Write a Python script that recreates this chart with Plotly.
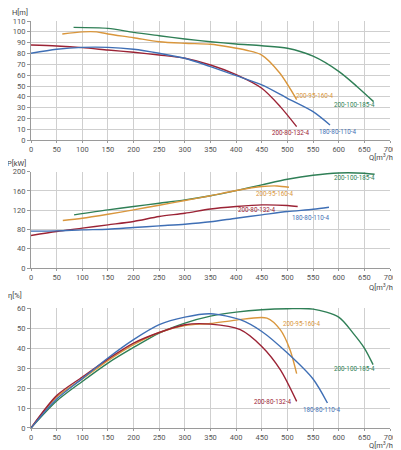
import plotly.graph_objects as go

# pump curves: flow Q [m3/h] vs head, power, efficiency
names = ['200-100-185-4', '200-95-160-4', '200-80-132-4', '180-80-110-4']
colors = ['#2f7f56', '#d9963c', '#9b2335', '#3f6fb5']

# H [m]
h_q_green = [83, 150, 200, 250, 300, 350, 400, 450, 500, 550, 600, 636, 668]
h_green = [104.1, 103.2, 99.5, 96.4, 93.4, 90.9, 88.8, 87.1, 84.8, 77.5, 63.5, 49.4, 35.6]
h_q_orange = [61, 100, 128, 150, 200, 250, 300, 350, 387, 420, 450, 485, 518]
h_orange = [98, 100, 100, 98, 94.6, 90.9, 89.4, 88.5, 86, 83, 78.6, 62, 37.5]
h_q_red = [0, 50, 100, 150, 200, 250, 300, 350, 400, 450, 486, 518]
h_red = [87.8, 86.9, 85.4, 83.2, 81.1, 78.6, 75.6, 69.4, 60.5, 47.9, 31, 12.5]
h_q_blue = [0, 50, 100, 150, 200, 250, 300, 350, 400, 450, 500, 550, 583]
h_blue = [80.2, 83.9, 85.7, 85.7, 83.9, 80.2, 75.6, 67.9, 59.6, 51, 38.7, 26.4, 14.1]

# P [kW]
p_q_green = [84, 150, 200, 250, 300, 350, 400, 450, 500, 550, 600, 650, 670]
p_green = [110.3, 120.7, 127.6, 134.5, 141.4, 150, 160.7, 172.4, 184, 192.4, 197.2, 196.6, 194.5]
p_q_orange = [62, 100, 150, 200, 250, 300, 350, 400, 450, 480, 503]
p_orange = [98.6, 103.4, 111.7, 120.7, 130.3, 140, 150, 160.7, 169, 170.3, 167.6]
p_q_red = [0, 50, 100, 150, 200, 250, 300, 350, 400, 450, 500, 520]
p_red = [67.6, 75.9, 82.8, 89.7, 96.6, 106.9, 113.8, 122.5, 127.6, 131, 129.7, 127.6]
p_q_blue = [0, 50, 100, 150, 200, 250, 300, 350, 400, 450, 500, 550, 581]
p_blue = [76.6, 77.2, 79.3, 80.7, 84.1, 87.6, 91, 96, 103.4, 110.3, 117.2, 122, 126.2]

# eta [%]
e_q_green = [0, 50, 100, 150, 200, 250, 300, 350, 400, 450, 500, 550, 600, 628, 650, 667]
e_green = [0, 13.5, 23.3, 32.5, 40.3, 47.5, 52.5, 56, 58, 59.2, 59.7, 59.5, 55.5, 47.5, 40, 31.7]
e_q_orange = [0, 50, 100, 150, 200, 250, 300, 350, 400, 460, 486, 505, 518]
e_orange = [0, 15.5, 24.5, 33.7, 41.7, 47.8, 51.3, 52.3, 54, 55, 49.2, 39.2, 27.2]
e_q_red = [0, 50, 100, 150, 200, 250, 300, 350, 408, 450, 486, 518]
e_red = [0, 16.2, 25.5, 34.5, 42.5, 47.8, 51.7, 52, 49.2, 40.8, 29.2, 13.3]
e_q_blue = [0, 50, 100, 150, 200, 250, 300, 350, 408, 450, 500, 550, 578]
e_blue = [0, 14.5, 24.7, 35, 44.2, 51.7, 55.5, 57.2, 54.2, 48.3, 37.5, 24.5, 12.5]

# label anchor points (Q, value) per chart, same order as names
h_lab_q = [630, 554, 507, 599]
h_lab_v = [32.5, 40.8, 6.5, 7.9]
p_lab_q = [630, 475, 441, 546]
p_lab_v = [187.6, 153, 120.7, 103.4]
e_lab_q = [630, 528, 472, 567]
e_lab_v = [29.7, 52, 12.8, 8.8]

h_q = [h_q_green, h_q_orange, h_q_red, h_q_blue]
h_v = [h_green, h_orange, h_red, h_blue]
p_q = [p_q_green, p_q_orange, p_q_red, p_q_blue]
p_v = [p_green, p_orange, p_red, p_blue]
e_q = [e_q_green, e_q_orange, e_q_red, e_q_blue]
e_v = [e_green, e_orange, e_red, e_blue]

fig = go.Figure()

for ax, qs, vs in [('', h_q, h_v), ('2', p_q, p_v), ('3', e_q, e_v)]:
    for i in range(4):
        fig.add_trace(go.Scatter(
            x=qs[i], y=vs[i], mode='lines',
            line=dict(color=colors[i], width=1.4, shape='spline', smoothing=0.8),
            xaxis='x' + ax, yaxis='y' + ax, showlegend=False, hoverinfo='skip'))

annotations = []
for ax, lq, lv in [('', h_lab_q, h_lab_v), ('2', p_lab_q, p_lab_v), ('3', e_lab_q, e_lab_v)]:
    for i in range(4):
        annotations.append(dict(
            x=lq[i], y=lv[i], xref='x' + ax, yref='y' + ax, text=names[i],
            showarrow=False, xanchor='center', yanchor='middle',
            font=dict(size=6.3, color=colors[i])))

title_font = dict(size=7.5, color='#444')
for ax, txt, xd, yd in [('', 'H[m]', -0.031, 1.071), ('2', 'P[kW]', -0.04, 1.087),
                        ('3', 'η[%]', -0.045, 1.105)]:
    annotations.append(dict(x=xd, y=yd, xref='x' + ax + ' domain', yref='y' + ax + ' domain',
                            text=txt, showarrow=False, xanchor='center', yanchor='middle',
                            font=title_font))
for ax, yd in [('', -0.14), ('2', -0.193), ('3', -0.138)]:
    annotations.append(dict(x=1.0195, y=yd, xref='x' + ax + ' domain', yref='y' + ax + ' domain',
                            text='Q[m<sup>3</sup>/h]', showarrow=False, xanchor='right',
                            yanchor='middle', font=title_font))

xax = dict(range=[0, 700], dtick=50, tick0=0, showgrid=True, gridcolor='#cfcfcf', gridwidth=1,
           zeroline=False, showline=True, linecolor='#9a9a9a', ticks='outside', ticklen=2,
           tickcolor='#9a9a9a', tickfont=dict(size=7.5, color='#555'), automargin=False)


def yax(rng, dtick, dom):
    return dict(range=rng, dtick=dtick, tick0=0, domain=dom, showgrid=True, gridcolor='#cfcfcf',
                gridwidth=1, zeroline=False, showline=True, linecolor='#9a9a9a', ticks='outside',
                ticklen=3, tickcolor='#9a9a9a', tickfont=dict(size=7.5, color='#555'),
                automargin=False)


# the page body sits 8px in from the window edge, so the figure is sized to fit inside it
fig.update_layout(
    width=393, height=442,
    margin=dict(l=23, r=11, t=13, b=21.7),
    paper_bgcolor='white', plot_bgcolor='white',
    font=dict(family='Roboto, sans-serif'),
    xaxis=dict(xax, anchor='y'),
    yaxis=yax([0, 110], 10, [0.7071, 1.0]),
    xaxis2=dict(xax, anchor='y2'),
    yaxis2=yax([0, 200], 40, [0.3928, 0.630]),
    xaxis3=dict(xax, anchor='y3'),
    yaxis3=yax([0, 60], 10, [0.0, 0.2946]),
    annotations=annotations,
)

fig.write_html("out.html")
